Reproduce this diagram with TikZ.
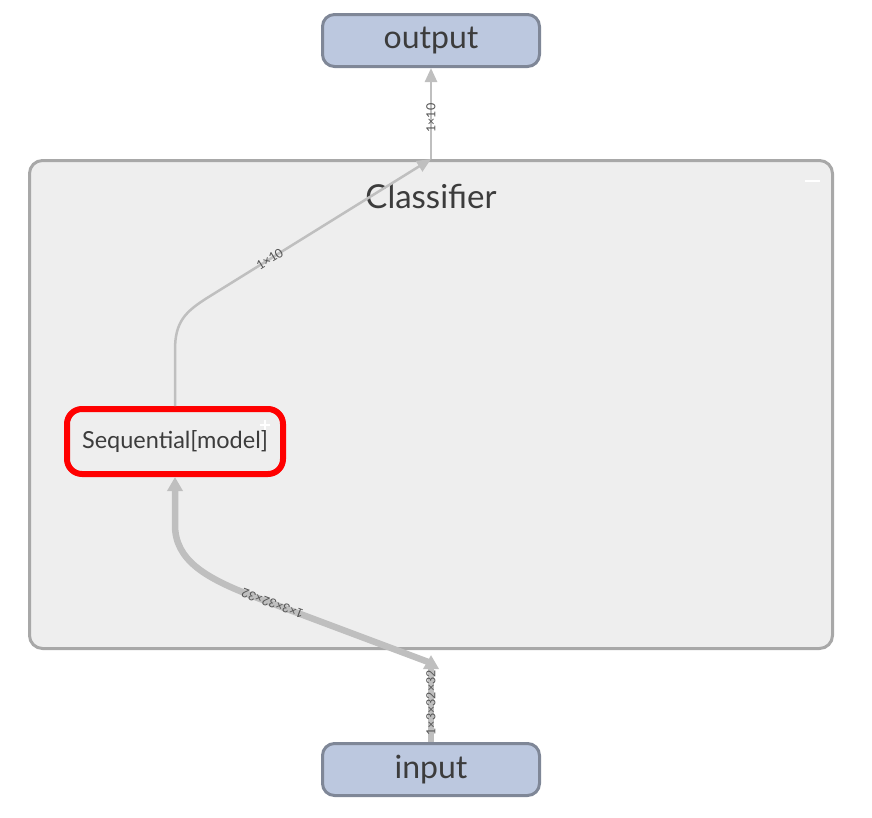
\documentclass[tikz,border=0pt]{standalone}
\usepackage{fontspec}
\setmainfont{Lato}
\usetikzlibrary{arrows.meta,positioning}
\definecolor{iofill}{HTML}{BCC8DF}
\definecolor{ioline}{HTML}{7F8797}
\definecolor{grpfill}{HTML}{EEEEEE}
\definecolor{grpline}{HTML}{A8A8A8}
\definecolor{edgegray}{HTML}{BFBFBF}
\definecolor{txtgray}{HTML}{3C3C3C}
\definecolor{lblgray}{HTML}{555555}
\tikzset{
  io/.style={draw=ioline,fill=iofill,line width=3,rounded corners=12,minimum width=217,minimum height=52,text=txtgray,font=\fontsize{32}{34}\selectfont},
  group/.style={draw=grpline,fill=grpfill,line width=3,rounded corners=13,minimum width=803,minimum height=488},
  opnode/.style={draw=red,fill=grpfill,line width=6,rounded corners=15,minimum width=216,minimum height=65,text=txtgray,font=\fontsize{23.5}{25}\selectfont},
  thinedge/.style={draw=edgegray,line width=2.5,-{Triangle[width=12,length=14]}},
  thickedge/.style={draw=edgegray,line width=6.5,-{Triangle[width=15,length=14]}},
  shape lbl/.style={sloped,allow upside down,text=lblgray,inner sep=0,font=\fontsize{12.5}{12.5}\selectfont}
}
\begin{document}
\begin{tikzpicture}[x=1pt,y=-1pt]
\useasboundingbox (0,0) rectangle (872,817);
\node[io] (output) at (431,40.5) {output};
\node[io] (input) at (431,769.5) {input};
\node[group] (classifier) at (431,404.5) {};
\node[text=txtgray,font=\fontsize{33}{35}\selectfont] (title) at (431,196) {Classifier};
\node[opnode] (model) at (175,441.5) {Sequential[model]};
% expand / collapse marks
\draw[white,line width=2.5] (805,181)--(820,181);
\draw[white,line width=2] (260,425)--(270,425) (265,420)--(265,430);
\coordinate (cls out) at (classifier.north);
\coordinate (cls in) at ([yshift=-5]classifier.south);
% edges
\draw[thinedge] (model.north)--(175,350) .. controls (175,322) and (185,312) .. (207,298)
  --(cls out) node[shape lbl,pos=0.28]{1×10};
\draw[thinedge] (cls out)--(output.south) node[shape lbl,pos=0.45]{1×10};
\draw[thickedge] (input.north)--(cls in) node[shape lbl,pos=0.45]{1×3×32×32};
\draw[thickedge] ([yshift=-8]cls in)--(255,597) node[shape lbl,pos=0.9]{1×3×32×32}
  .. controls (205,578) and (175,560) .. (175,525)--(model.south);
\end{tikzpicture}
\end{document}
